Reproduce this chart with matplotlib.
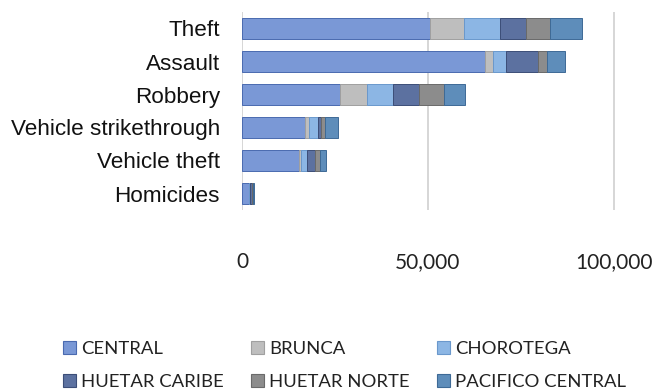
import matplotlib
matplotlib.use("Agg")
import matplotlib.pyplot as plt
from matplotlib.patches import Patch
import numpy as np

categories = ["Theft", "Assault", "Robbery", "Vehicle strikethrough", "Vehicle theft", "Homicides"]
regions = ["CENTRAL", "BRUNCA", "CHOROTEGA", "HUETAR CARIBE", "HUETAR NORTE", "PACIFICO CENTRAL"]

central       = [50500, 65200, 26300, 16850, 15200, 1900]
brunca        = [9300, 2150, 7400, 1070, 550, 50]
chorotega     = [9500, 3500, 6900, 2430, 1600, 100]
huetar_caribe = [7100, 8650, 7000, 810, 2300, 600]
huetar_norte  = [6300, 2550, 6700, 1080, 1350, 200]
pacifico      = [8800, 4700, 5700, 3440, 1600, 300]

series = [central, brunca, chorotega, huetar_caribe, huetar_norte, pacifico]
colors = ["#7A98D6", "#BEBEBE", "#8CB6E4", "#5C71A0", "#8C8C8C", "#5E8DBA"]
edges = ["#4A6AB0", "#A0A0A0", "#6A98CC", "#3C4E78", "#6A6A6A", "#3E6A96"]

fig = plt.figure(figsize=(6.56, 3.92), dpi=100)
ax = fig.add_axes([242/656, 1 - 210/392, (640-242)/656, (210-12)/392])

y = np.arange(len(categories))
left = np.zeros(len(categories))
for vals, c, ec in zip(series, colors, edges):
    ax.barh(y, vals, left=left, height=0.64, color=c, edgecolor=ec, linewidth=0.7, zorder=3)
    left += np.array(vals)

ax.set_ylim(len(categories) - 0.5, -0.5)
ax.set_xlim(0, 107000)
ax.set_xticks([0, 50000, 100000])
ax.set_xticklabels(["0", "50,000", "100,000"], family="Lato", fontsize=15, color="#222222")
ax.tick_params(axis="x", length=0, pad=30)
ax.set_yticks(y)
ax.set_yticklabels(categories, family="Liberation Sans", fontsize=16.2, color="#111111")
ax.tick_params(axis="y", length=0, pad=16)
for s in ax.spines.values():
    s.set_visible(False)
ax.grid(axis="x", color="#D0D0D0", linewidth=1.2, zorder=0)
ax.set_axisbelow(True)

handles = [Patch(facecolor=c, edgecolor=ec, linewidth=0.8) for c, ec in zip(colors, edges)]
order = [0, 3, 1, 4, 2, 5]
leg = fig.legend([handles[i] for i in order], [regions[i] for i in order],
                 ncol=3, loc="upper left", bbox_to_anchor=(48/656, 1 - 326/392),
                 frameon=False, prop={"family": "Lato", "size": 13.3},
                 handlelength=0.7, handleheight=0.7, handletextpad=0.3,
                 columnspacing=1.45, labelspacing=0.95, borderpad=0.3)
for t in leg.get_texts():
    t.set_color("#222222")

fig.savefig("out.png", dpi=100)
